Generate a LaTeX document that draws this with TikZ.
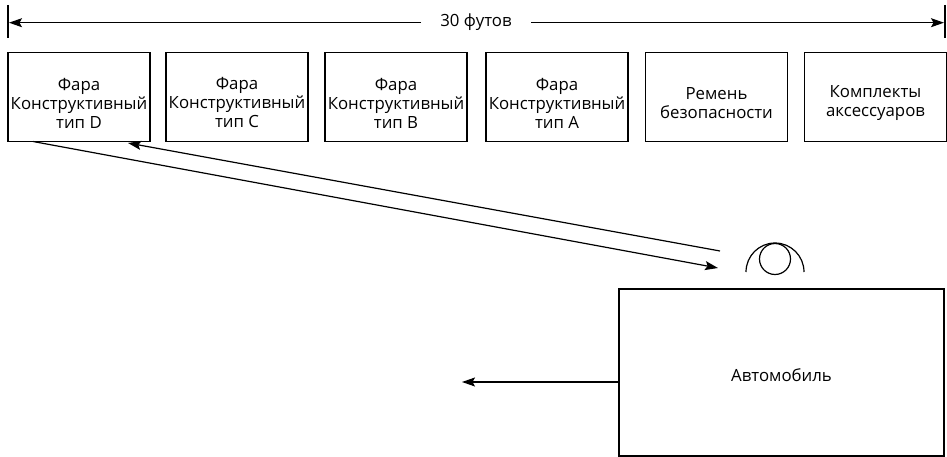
\documentclass[tikz,border=0pt]{standalone}
\usepackage{fontspec}
\setmainfont{Open Sans}
\usetikzlibrary{arrows.meta}
\begin{document}
\begin{tikzpicture}[x=1pt,y=-1pt,
  line width=1.2pt,
  tip/.style={-{Stealth[length=13pt,width=9pt,inset=2.5pt]}},
  partbox/.style={draw,minimum width=142pt,minimum height=89pt,inner sep=0pt},
  parttext/.style={align=center,inner sep=0pt,font=\fontsize{16.8}{19}\selectfont},
  lbl/.style={font=\fontsize{16.8}{19}\selectfont}]
\useasboundingbox (0,0) rectangle (947,457);

% 30 ft dimension line
\coordinate (tl1) at (8,5);   \coordinate (tl2) at (8,38);
\coordinate (tr1) at (945,5); \coordinate (tr2) at (945,38);
\draw (tl1) -- (tl2);
\draw (tr1) -- (tr2);
\node[lbl] (dim) at (476,22) {30 футов};
\coordinate (dl) at (421,22.7);
\coordinate (dr) at (531,22.7);
\coordinate (dlt) at (9,22.7);
\coordinate (drt) at (944,22.7);
\draw[tip] (dl) -- (dlt);
\draw[tip] (dr) -- (drt);

% parts along the line
\node[partbox] (d) at (79,97) {};
\node[partbox] (c) at (237,97) {};
\node[partbox] (b) at (396,97) {};
\node[partbox] (a) at (557,97) {};
\node[partbox] (belt) at (716.5,97) {};
\node[partbox] (kit) at (875.5,97) {};
\node[parttext] (dt) at ([yshift=-6pt]d.center) {Фара\\Конструктивный\\тип D};
\node[parttext] (ct) at ([yshift=-6pt]c.center) {Фара\\Конструктивный\\тип C};
\node[parttext] (bt) at ([yshift=-6pt]b.center) {Фара\\Конструктивный\\тип B};
\node[parttext] (at) at ([yshift=-6pt]a.center) {Фара\\Конструктивный\\тип A};
\node[parttext] (beltt) at ([yshift=-6pt]belt.center) {Ремень\\безопасности};
\node[parttext] (kitt) at ([yshift=-6pt]kit.center) {Комплекты\\аксессуаров};

% operator
\coordinate (hc) at (775,259);
\draw (746,272) arc[start angle=180,end angle=360,radius=29];
\draw (hc) circle[radius=15.5];

% walking paths
\coordinate (p1) at (33,141.5);
\coordinate (p2) at (718,268);
\coordinate (p3) at (720,251);
\coordinate (p4) at (128,143);
\draw[tip] (p1) -- (p2);
\draw[tip] (p3) -- (p4);

% car
\node[draw,minimum width=325pt,minimum height=167pt,inner sep=0pt,lbl,
  text depth=0pt] (car) at (781.5,372.5) {\raisebox{-6pt}{Автомобиль}};
\coordinate (cw) at (car.west |- 0,382);
\coordinate (ce) at (462,382);
\draw[tip] (cw) -- (ce);
\end{tikzpicture}
\end{document}
